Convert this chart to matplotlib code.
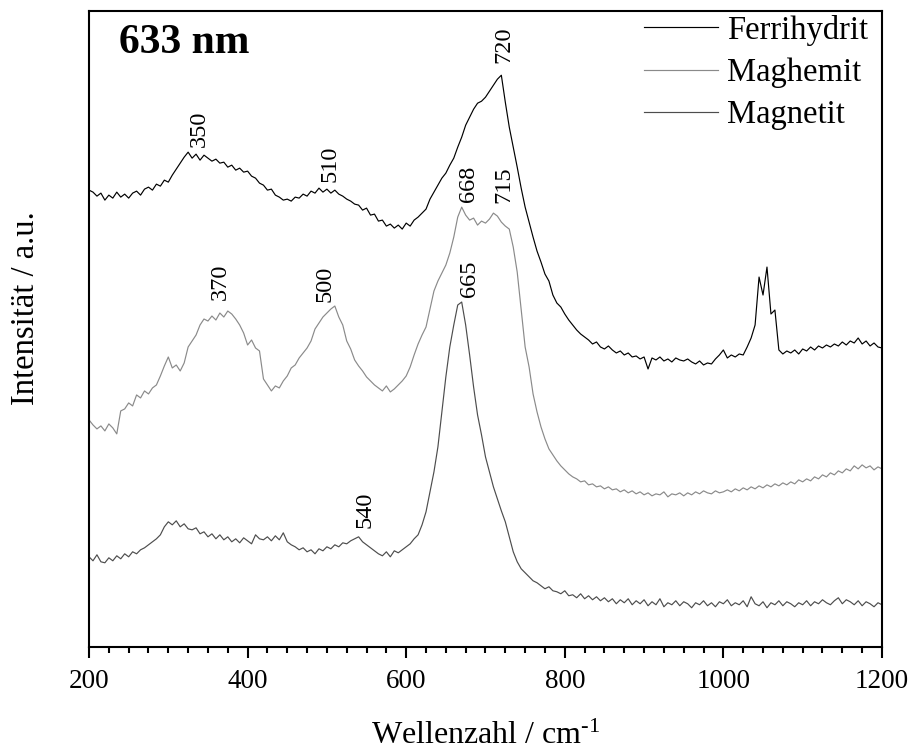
import numpy as np
from matplotlib import pyplot as plt

plt.rcParams['font.family'] = ['Liberation Serif', 'DejaVu Serif']
plt.rcParams['mathtext.fontset'] = 'custom'
plt.rcParams['mathtext.rm'] = 'Liberation Serif'
plt.rcParams['mathtext.default'] = 'regular'

# Wellenzahl in cm^-1, Schrittweite 5
wavenumber = np.arange(200, 1205, 5)

ferrihydrit = [
    457, 455, 451, 454, 447, 452, 449, 455, 450, 453, 449, 454, 456, 452, 458, 460, 457, 463, 461, 467,
    465, 472, 478, 484, 490, 495, 489, 493, 487, 492, 489, 486, 488, 484, 485, 480, 482, 477, 479, 475,
    476, 471, 469, 464, 462, 457, 458, 452, 450, 447, 448, 446, 450, 449, 453, 451, 456, 454, 459, 455,
    458, 454, 457, 453, 451, 448, 446, 443, 442, 437, 439, 432, 433, 426, 427, 421, 423, 419, 422, 418,
    424, 421, 427, 430, 434, 438, 448, 455, 462, 469, 474, 482, 489, 500, 510, 522, 530, 538, 544, 546,
    550, 556, 562, 568, 572, 545, 520, 500, 480, 459, 440, 425, 410, 396, 385, 373, 366, 352, 344, 340,
    333, 327, 322, 317, 313, 310, 307, 303, 305, 300, 298, 301, 297, 294, 296, 292, 294, 290, 291, 288,
    290, 278, 289, 287, 290, 286, 288, 285, 289, 287, 286, 288, 285, 283, 286, 282, 284, 283, 288, 292,
    297, 289, 292, 290, 293, 292, 300, 309, 322, 370, 352, 380, 333, 337, 297, 293, 296, 294, 297, 293,
    298, 296, 300, 297, 301, 299, 302, 300, 303, 301, 305, 302, 306, 304, 309, 303, 306, 301, 304, 300,
    299,
]

maghemit = [
    227, 222, 218, 221, 216, 223, 219, 213, 236, 238, 244, 241, 252, 249, 256, 253, 259, 262, 271, 281,
    290, 279, 282, 276, 284, 300, 306, 312, 322, 328, 326, 331, 327, 334, 330, 336, 333, 328, 322, 314,
    302, 307, 299, 296, 268, 262, 256, 261, 259, 266, 271, 279, 282, 289, 294, 299, 306, 318, 324, 330,
    334, 338, 341, 330, 322, 306, 298, 287, 281, 276, 270, 266, 262, 259, 256, 261, 255, 258, 262, 266,
    271, 280, 292, 303, 312, 320, 338, 356, 366, 374, 382, 394, 410, 430, 440, 432, 427, 429, 422, 426,
    424, 428, 434, 431, 425, 421, 418, 400, 375, 337, 300, 280, 253, 235, 220, 208, 198, 192, 186, 181,
    177, 173, 170, 168, 165, 166, 162, 163, 160, 161, 158, 160, 157, 158, 155, 157, 154, 156, 153, 155,
    152, 154, 151, 153, 152, 155, 150, 153, 152, 154, 151, 154, 152, 155, 153, 156, 154, 153, 156, 154,
    155, 157, 155, 158, 156, 159, 157, 160, 158, 161, 159, 162, 160, 163, 161, 164, 162, 165, 163, 167,
    165, 168, 166, 170, 168, 172, 170, 174, 172, 176, 174, 178, 176, 181, 178, 182, 179, 181, 177, 180,
    178,
]

magnetit = [
    90, 86, 92, 85, 84, 89, 86, 91, 88, 93, 90, 95, 93, 97, 99, 102, 105, 108, 112, 120,
    125, 122, 126, 120, 123, 118, 117, 119, 113, 115, 110, 113, 108, 112, 107, 110, 105, 108, 104, 109,
    106, 103, 112, 108, 107, 110, 106, 111, 107, 114, 105, 102, 100, 97, 99, 95, 97, 93, 98, 96,
    100, 98, 102, 100, 104, 103, 106, 108, 110, 105, 102, 99, 96, 93, 91, 95, 90, 96, 94, 97,
    100, 103, 108, 112, 122, 135, 155, 175, 200, 235, 270, 300, 322, 342, 345, 322, 292, 260, 232, 212,
    190, 175, 160, 148, 136, 125, 110, 95, 85, 78, 74, 70, 66, 64, 61, 58, 60, 56, 55, 53,
    56, 51, 52, 49, 53, 48, 51, 47, 50, 46, 49, 45, 48, 43, 47, 44, 48, 42, 46, 43,
    47, 41, 45, 42, 48, 40, 44, 42, 46, 41, 45, 43, 39, 44, 42, 46, 41, 44, 40, 45,
    43, 47, 41, 44, 42, 46, 40, 50, 43, 41, 45, 39, 44, 42, 46, 41, 45, 43, 40, 44,
    42, 46, 41, 45, 43, 47, 44, 42, 46, 49, 43, 47, 45, 42, 46, 41, 45, 43, 40, 44,
    42,
]

# Bandenlage (Text) und Höhe der Beschriftung
peak_labels = ['350', '510', '720', '370', '500', '668', '715', '665', '540']
peak_x = [339, 504, 723, 365, 498, 679, 723, 680, 548]
peak_y = [500, 465, 584, 347, 345, 445, 444, 350, 119]

fig = plt.figure(figsize=(9.13, 7.52), dpi=100)
ax = fig.add_axes([0.0975, 0.14, 0.8685, 0.845])

ax.plot(wavenumber, ferrihydrit, color='black', lw=0.85, label='Ferrihydrit')
ax.plot(wavenumber, maghemit, color='#8a8a8a', lw=0.85, label='Maghemit')
ax.plot(wavenumber, magnetit, color='#4d4d4d', lw=0.85, label='Magnetit')

for lab, px, py in zip(peak_labels, peak_x, peak_y):
    ax.text(px, py, lab, rotation=90, ha='center', va='bottom', fontsize=17.5)

ax.text(0.038, 0.95, '633 nm', transform=ax.transAxes, fontsize=30,
        fontweight='bold', ha='left', va='center')

ax.set_xlim(200, 1200)
ax.set_ylim(0, 636)
ax.set_yticks([])
ax.set_xticks([200, 400, 600, 800, 1000, 1200])
ax.set_xticks(np.arange(200, 1201, 25), minor=True)
ax.tick_params(axis='x', which='major', direction='out', length=8, width=1.5, labelsize=19.5, pad=8)
ax.tick_params(axis='x', which='minor', direction='out', length=4, width=1.5)
for s in ax.spines.values():
    s.set_linewidth(1.5)

ax.set_xlabel('Wellenzahl / cm$^{\u20101}$', fontsize=23, labelpad=20)
ax.set_ylabel('Intensität / a.u.', fontsize=23.5)
ax.yaxis.set_label_coords(-0.06, 0.533)

ax.legend(loc='upper right', bbox_to_anchor=(0.985, 0.997), frameon=False, fontsize=23.5,
          handlelength=2.25, handletextpad=0.3, labelspacing=0.36, borderaxespad=0, borderpad=0.05)

plt.savefig('out.png', dpi=100)
